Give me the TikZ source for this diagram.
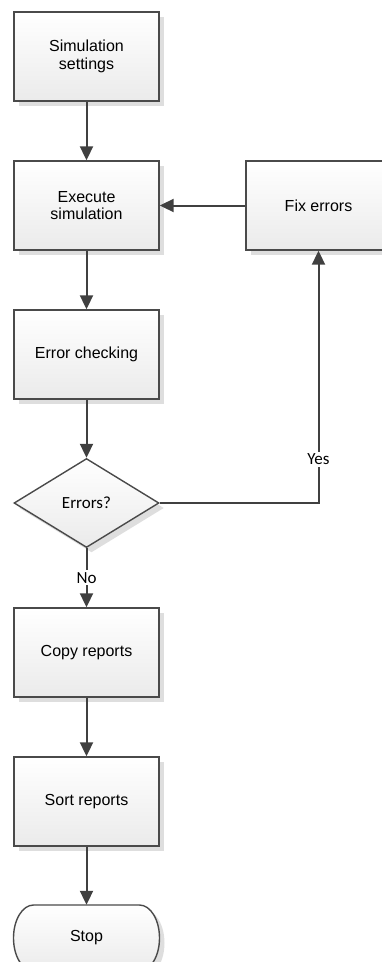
\documentclass[tikz,border=0pt]{standalone}
\usepackage{fontspec}
\setmainfont{Liberation Sans}
\newfontfamily\labelfont{Carlito}
\usetikzlibrary{shapes.geometric,shadows,arrows.meta}

\definecolor{edgegray}{HTML}{404040}
\definecolor{framegray}{HTML}{4A4A4A}

\tikzset{
  boxshadow/.style={drop shadow={shadow xshift=5pt, shadow yshift=-5pt, fill=black!13, opacity=1}},
  process/.style={rectangle, draw=framegray, line width=1.4pt,
    top color=white, bottom color=black!8, boxshadow,
    minimum width=145pt, minimum height=89pt, inner sep=0pt,
    align=center, font=\fontsize{16}{17.5}\selectfont},
  decision/.style={diamond, draw=framegray, line width=1.4pt,
    top color=white, bottom color=black!8, boxshadow,
    minimum width=145pt, minimum height=89pt, inner sep=0pt,
    font=\labelfont\fontsize{17}{19}\selectfont},
  terminal/.style={draw=framegray, line width=1.4pt,
    top color=white, bottom color=black!8, boxshadow},
  flow/.style={draw=edgegray, line width=2pt,
    -{Triangle[length=14pt,width=13pt]}},
  flowlabel/.style={fill=white, inner sep=2pt, text=black,
    font=\labelfont\fontsize{17}{19}\selectfont},
}

\begin{document}
\begin{tikzpicture}[x=1pt,y=1pt]
  \useasboundingbox (0,0) rectangle (382,-962);
  \clip (0,0) rectangle (382,-962);

  % process steps
  \node[process] (set)   at (86.5,-56.5)  {Simulation\\settings};
  \node[process] (exec)  at (86.5,-205.5) {Execute\\simulation};
  \node[process] (fix)   at (318.5,-205.5) {Fix errors};
  \node[process] (check) at (86.5,-354.5) {Error checking};
  \node[decision] (dec)  at (86.5,-503)   {Errors?};
  \node[process] (copy)  at (86.5,-652.5) {Copy reports};
  \node[process] (sort)  at (86.5,-801.5) {Sort reports};

  % terminal: stadium outline with elliptical ends
  \path[terminal] (33.5,-905) -- (139.5,-905)
    arc[start angle=90, end angle=-90, x radius=20, y radius=33]
    -- (33.5,-971)
    arc[start angle=270, end angle=90, x radius=20, y radius=33] -- cycle;
  \node[minimum width=146pt, minimum height=66pt, inner sep=0pt,
        font=\fontsize{16}{17.5}\selectfont] (stop) at (86.5,-938) {Stop};

  % connectors
  \draw[flow] (set) -- (exec);
  \draw[flow] (exec) -- (check);
  \draw[flow] (check) -- (dec);
  \draw[flow] (dec.south) -- node[flowlabel] {No} (copy.north);
  \draw[flow] (copy) -- (sort);
  \draw[flow] (sort) -- (stop.north);
  \draw[flow] (dec.east) -| node[flowlabel, pos=0.587] {Yes} (fix.south);
  \draw[flow] (fix.west) -- (exec.east);
\end{tikzpicture}
\end{document}
